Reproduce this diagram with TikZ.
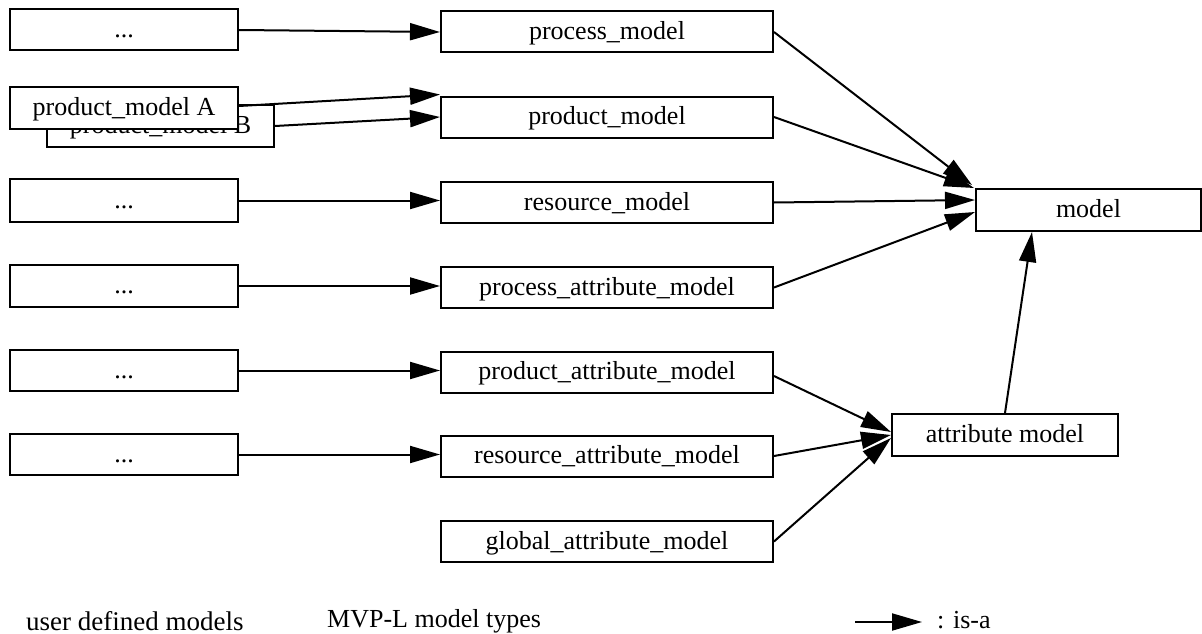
\documentclass[tikz,border=0pt]{standalone}
\usepackage{fontspec}
\setmainfont{Liberation Serif}
\usetikzlibrary{arrows.meta,calc}

\tikzset{
  box/.style={draw, line width=2pt, fill=white, inner sep=0pt,
              text height=21pt, text depth=6pt, minimum height=41pt},
  userbox/.style={box, minimum width=228pt},
  typebox/.style={box, minimum width=332pt},
  isa/.style={line width=2pt, -{Triangle[length=30pt,width=17pt]}},
  caption/.style={anchor=west, inner sep=0pt}
}

\begin{document}
\begin{tikzpicture}[x=1pt, y=-1pt, font=\fontsize{26}{30}\selectfont]
\useasboundingbox (0,0) rectangle (1202,634);

% user defined models
\node[userbox] (u1) at (124,30) {...};
\node[userbox, minimum width=227pt, minimum height=42pt] (pB) at (160.5,126) {product\_model B};
\node[userbox, minimum height=42pt] (pA) at (124,108) {product\_model A};
\node[userbox, minimum height=43pt] (u3) at (124,200.5) {...};
\node[userbox, minimum height=42pt] (u4) at (124,286) {...};
\node[userbox] (u5) at (124,370.5) {...};
\node[userbox] (u6) at (124,454.5) {...};

% MVP-L model types
\node[typebox] (m1) at (607,32) {process\_model};
\node[typebox] (m2) at (607,117) {product\_model};
\node[typebox] (m3) at (607,202.5) {resource\_model};
\node[typebox] (m4) at (607,287.5) {process\_attribute\_model};
\node[typebox] (m5) at (607,372) {product\_attribute\_model};
\node[typebox] (m6) at (607,456) {resource\_attribute\_model};
\node[typebox] (m7) at (607,541.5) {global\_attribute\_model};

% base types
\node[box, minimum width=225pt, minimum height=42pt] (model) at (1088.5,210) {model};
\node[box, minimum width=226pt, minimum height=42pt] (attr) at (1005,435) {attribute model};

% is-a relations: user models
\draw[isa] (u1.east) -- (m1.west);
\draw[isa] ($(pA.east)+(0,-2)$) -- ($(m2.north west)+(0,-1)$);
\draw[isa] (pB.east) -- (m2.west);
\draw[isa] (u3.east) -- (m3.west |- u3.east);
\draw[isa] (u4.east) -- (m4.west |- u4.east);
\draw[isa] (u5.east) -- (m5.west |- u5.east);
\draw[isa] (u6.east) -- (m6.west |- u6.east);

% is-a relations: model types
\draw[isa] (m1.east) -- ($(model.north west)+(-3,-3)$);
\draw[isa] (m2.east) -- ($(model.north west)+(-1,0)$);
\draw[isa] (m3.east) -- ($(model.west)+(0,-10)$);
\draw[isa] (m4.east) -- ($(model.west)+(0,2)$);
\draw[isa] ($(m5.east)+(0,4)$) -- ($(attr.west)+(0,-3)$);
\draw[isa] (m6.east) -- (attr.west);
\draw[isa] (m7.east) -- ($(attr.west)+(0,3)$);
\draw[isa] (attr.north) -- ($(model.south west)+(57,0)$);

% column captions and legend
\node[caption] (cap1) at (26,621) {\fontsize{27}{30}\selectfont user defined models};
\node[caption] (cap2) at (327,621) {MVP-L model types};
\coordinate (lgA) at (855,622);
\coordinate (lgB) at (922,622);
\draw[isa] (lgA) -- (lgB);
\node[caption] (lg) at (937,620) {: is-a};
\end{tikzpicture}
\end{document}
